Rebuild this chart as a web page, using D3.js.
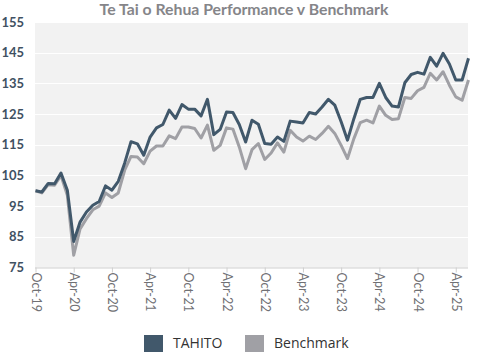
<!DOCTYPE html>
<html>
<head>
<meta charset="utf-8">
<script src="https://cdn.jsdelivr.net/npm/d3@7"></script>
<style>
body{margin:0;background:#fff;}
</style>
</head>
<body>
<div id="chart"></div>
<script>
//////////////////////data//////////////////////
var title="Te Tai o Rehua Performance v Benchmark";
var seriesNames=["TAHITO","Benchmark"];
//monthly, Oct-19 .. Jun-25
var months=d3.timeMonth.range(new Date(2019,9,1),new Date(2025,6,1));
var tahito=[
    100.0,99.6,102.4,102.3,105.8,100.2,83.5,89.8,93.1,95.3,96.5,101.6,
    100.2,103.1,109.0,116.0,115.3,111.6,117.5,120.5,121.6,126.3,123.6,128.1,
    126.6,126.6,124.4,129.8,118.3,120.0,125.7,125.5,121.6,115.9,123.0,121.7,
    115.4,115.2,117.5,116.1,122.7,122.4,122.1,125.5,125.0,127.3,129.8,127.9,
    122.5,116.5,123.5,129.8,130.4,130.4,135.0,130.4,127.6,127.3,135.2,137.9,
    138.6,138.0,143.5,140.6,144.8,141.3,136.1,136.1,143.2
];
var benchmark=[
    100.0,99.3,102.0,101.8,105.0,98.5,79.0,87.6,90.9,93.8,95.0,99.3,
    97.8,99.3,106.7,111.2,111.0,108.8,112.9,114.6,114.6,117.9,117.0,120.8,
    120.8,120.3,117.2,121.4,113.2,114.8,120.5,120.1,114.3,107.2,113.4,115.4,
    110.2,112.3,115.6,112.6,119.7,117.5,116.2,117.8,116.7,118.7,121.0,118.7,
    114.8,110.5,117.0,122.2,123.0,122.1,127.6,124.6,123.2,123.5,130.4,130.1,
    132.6,133.7,138.3,136.1,138.8,134.4,130.6,129.5,136.1
];
var yTicks=[75,85,95,105,115,125,135,145,155];
var colors=["#41586b","#a0a0a5"];

//////////////////////plot//////////////////////
var W=497,H=352;
var svg=d3.select("#chart").append("svg").attr("width",W).attr("height",H);

//title
svg.append("text")
    .attr("x",244).attr("y",14.5)
    .attr("text-anchor","middle")
    .attr("font-family","Lato, 'Open Sans', sans-serif")
    .attr("font-size","15.8px")
    .attr("font-weight","bold")
    .attr("fill","#858589")
    .text(title);

var xScale=d3.scaleLinear().domain([0,months.length-1]).range([35.5,468.5]);
var yScale=d3.scaleLinear().domain([75,155]).range([267.5,22]);

//plot background
svg.append("rect")
    .attr("x",35).attr("y",22)
    .attr("width",433).attr("height",245.5)
    .attr("fill","#f2f2f2");

//grid
svg.append("g").selectAll("line")
    .data(yTicks.slice(1))
    .enter().append("line")
    .attr("x1",35).attr("x2",468)
    .attr("y1",function(d){return Math.round(yScale(d))+0.5;})
    .attr("y2",function(d){return Math.round(yScale(d))+0.5;})
    .attr("stroke","#ffffff").attr("stroke-width",1);

//y labels
svg.append("g").selectAll("text")
    .data(yTicks)
    .enter().append("text")
    .attr("x",24)
    .attr("y",function(d){return yScale(d);})
    .attr("dy","0.35em")
    .attr("text-anchor","end")
    .attr("font-family","Lato, sans-serif")
    .attr("font-size","13px")
    .attr("font-weight","bold")
    .attr("fill","#3f5162")
    .text(function(d){return d;});

//x axis
var tickIdx=d3.range(0,months.length,6);
var xAxis=d3.axisBottom(xScale)
    .tickValues(tickIdx)
    .tickSize(5)
    .tickFormat(function(i){return d3.timeFormat("%b-%y")(months[i]);});
var gx=svg.append("g").attr("transform","translate(0,267.5)").call(xAxis);
gx.select(".domain").attr("stroke","#cfcfcf").attr("d","M35,0.5H468");
gx.selectAll(".tick line").attr("stroke","#cfcfcf");
gx.selectAll(".tick text")
    .attr("font-family","Lato, sans-serif")
    .attr("font-size","12.5px")
    .attr("fill","#707074")
    .attr("text-anchor","start")
    .attr("transform","rotate(90)")
    .attr("x",5).attr("y",0).attr("dy","0.35em");

//lines
var line=d3.line()
    .x(function(d,i){return xScale(i);})
    .y(function(d){return yScale(d);});
[benchmark,tahito].forEach(function(arr,k){
    svg.append("path")
        .datum(arr)
        .attr("d",line)
        .attr("fill","none")
        .attr("stroke",k==0?colors[1]:colors[0])
        .attr("stroke-width",3)
        .attr("stroke-linejoin","round");
});

//legend
var legX=[144,245];
seriesNames.forEach(function(name,k){
    svg.append("rect")
        .attr("x",legX[k]).attr("y",335)
        .attr("width",19).attr("height",17)
        .attr("fill",colors[k]);
    svg.append("text")
        .attr("x",legX[k]+29).attr("y",348)
        .attr("font-family","'Open Sans', sans-serif")
        .attr("font-size","14px")
        .attr("fill","#333")
        .text(name);
});
</script>
</body>
</html>
